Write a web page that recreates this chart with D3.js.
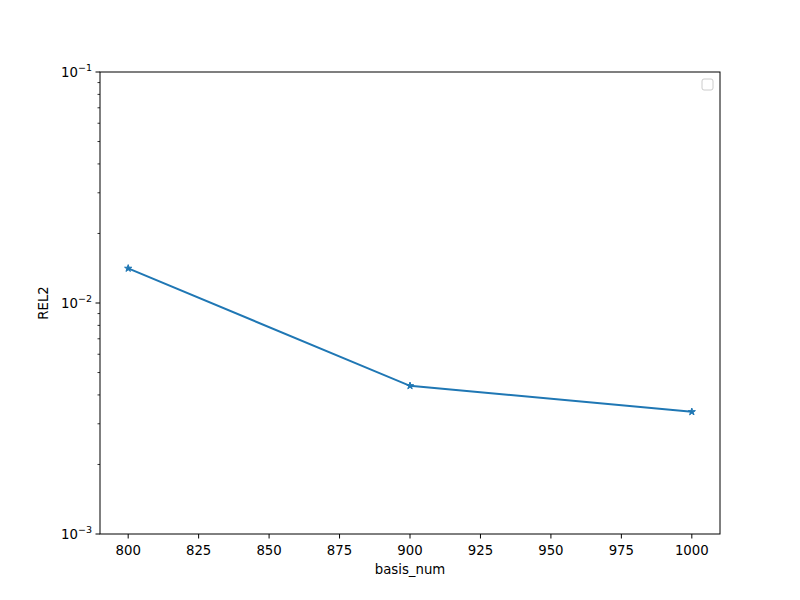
<!DOCTYPE html>
<html>
<head>
<meta charset="utf-8">
<style>
  body { margin: 0; background: #fff; }
  svg text { font-family: "DejaVu Sans", sans-serif; fill: #000; }
</style>
<script src="https://cdn.jsdelivr.net/npm/d3@7"></script>
</head>
<body>
<div id="chart"></div>
<script>
// data
var basisNum = [800, 900, 1000];
var rel2 = [0.01412, 0.00438, 0.00338];
var xTicks = [800, 825, 850, 875, 900, 925, 950, 975, 1000];
var yMajor = [1e-3, 1e-2, 1e-1];

var width = 800, height = 600;
var margin = { left: 100, right: 80, top: 72, bottom: 66 };
var color = "#1f77b4";
var fs = "13.3px";

var svg = d3.select("#chart").append("svg")
    .attr("width", width)
    .attr("height", height);

var x = d3.scaleLinear().domain([790, 1010]).range([margin.left, width - margin.right]);
var y = d3.scaleLog().domain([1e-3, 1e-1]).range([height - margin.bottom, margin.top]);

var plotH = height - margin.bottom - margin.top;

// x axis ticks
var xg = svg.append("g");
xTicks.forEach(function (t) {
    xg.append("line")
        .attr("x1", x(t)).attr("x2", x(t))
        .attr("y1", height - margin.bottom).attr("y2", height - margin.bottom + 4.5)
        .attr("stroke", "#000").attr("stroke-width", 1);
    xg.append("text")
        .attr("x", x(t)).attr("y", height - margin.bottom + 21)
        .attr("text-anchor", "middle")
        .style("font-size", fs)
        .text(t);
});

// y axis major + minor ticks
var yg = svg.append("g");
yMajor.forEach(function (t) {
    yg.append("line")
        .attr("x1", margin.left - 4.5).attr("x2", margin.left)
        .attr("y1", y(t)).attr("y2", y(t))
        .attr("stroke", "#000").attr("stroke-width", 1);
    var exp = Math.round(Math.log10(t));
    var lbl = yg.append("text")
        .attr("x", margin.left - 8).attr("y", y(t) + 5)
        .attr("text-anchor", "end")
        .style("font-size", fs);
    lbl.append("tspan").text("10");
    lbl.append("tspan").attr("dy", -6).style("font-size", "9.5px").text("\u2212" + Math.abs(exp));
});
[1e-3, 1e-2].forEach(function (base) {
    for (var k = 2; k <= 9; k++) {
        yg.append("line")
            .attr("x1", margin.left - 2.5).attr("x2", margin.left)
            .attr("y1", y(base * k)).attr("y2", y(base * k))
            .attr("stroke", "#000").attr("stroke-width", 0.8);
    }
});

// line + star markers
var line = d3.line()
    .x(function (d, i) { return x(basisNum[i]); })
    .y(function (d) { return y(d); });

svg.append("path")
    .datum(rel2)
    .attr("d", line)
    .attr("fill", "none")
    .attr("stroke", color)
    .attr("stroke-width", 2);

var star = d3.symbol().type(d3.symbolStar).size(16);
svg.selectAll(".pt")
    .data(rel2)
    .enter()
    .append("path")
    .attr("class", "pt")
    .attr("d", star)
    .attr("transform", function (d, i) { return "translate(" + x(basisNum[i]) + "," + y(d) + ")"; })
    .attr("fill", color)
    .attr("stroke", color)
    .attr("stroke-width", 1);

// frame
svg.append("rect")
    .attr("x", margin.left).attr("y", margin.top)
    .attr("width", width - margin.left - margin.right)
    .attr("height", plotH)
    .attr("fill", "none")
    .attr("stroke", "#000")
    .attr("stroke-width", 1);

// empty legend box
svg.append("rect")
    .attr("x", 702).attr("y", 79)
    .attr("width", 11).attr("height", 11)
    .attr("rx", 2)
    .attr("fill", "#fff")
    .attr("stroke", "#ccc")
    .attr("stroke-width", 1);

// axis labels
svg.append("text")
    .attr("x", x(900)).attr("y", 574)
    .attr("text-anchor", "middle")
    .style("font-size", fs)
    .text("basis_num");

svg.append("text")
    .attr("transform", "translate(48," + (margin.top + plotH / 2) + ") rotate(-90)")
    .attr("text-anchor", "middle")
    .style("font-size", fs)
    .text("REL2");
</script>
</body>
</html>
